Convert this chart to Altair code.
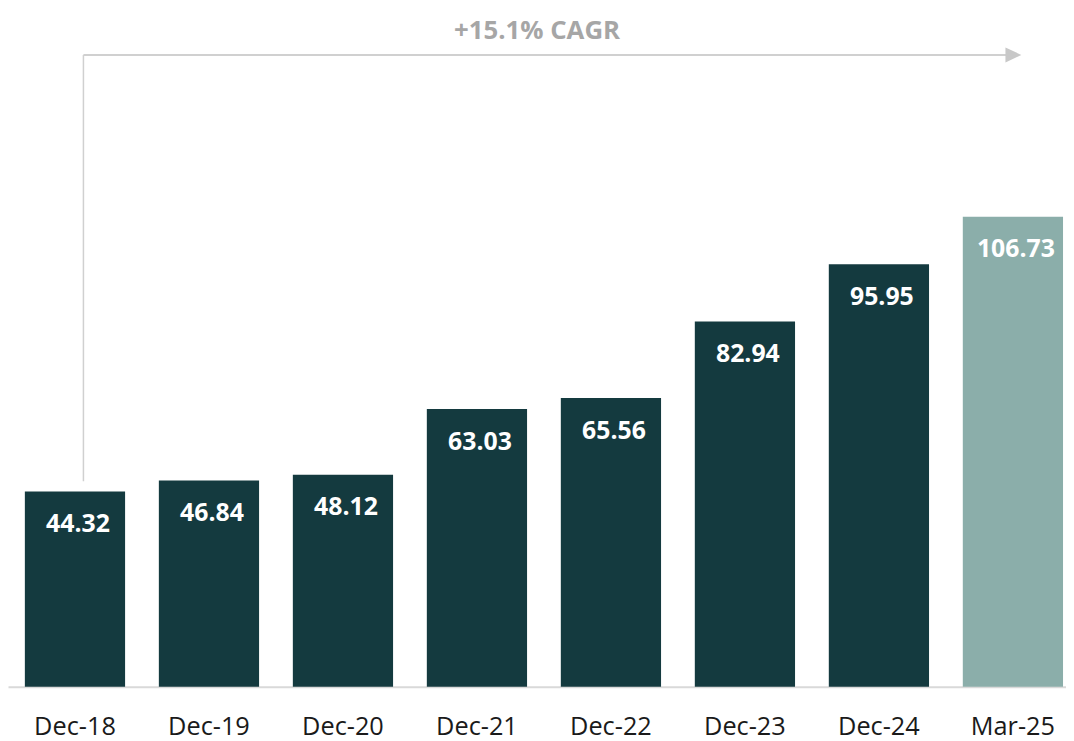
import altair as alt
import pandas as pd

# ---- data ----
periods = ["Dec-18", "Dec-19", "Dec-20", "Dec-21", "Dec-22", "Dec-23", "Dec-24", "Mar-25"]
values = [44.32, 46.84, 48.12, 63.03, 65.56, 82.94, 95.95, 106.73]
period_kind = ["Year end", "Year end", "Year end", "Year end", "Year end", "Year end", "Year end", "Latest quarter"]
value_labels = ["44.32", "46.84", "48.12", "63.03", "65.56", "82.94", "95.95", "106.73"]
cagr_label = ["+15.1% CAGR"]

df = pd.DataFrame({"period": periods, "value": values, "kind": period_kind, "label": value_labels})
ann = pd.DataFrame({"text": cagr_label})

FONT = "Open Sans"
W, H = 1066, 681

x_scale = alt.Scale(paddingInner=0.252, paddingOuter=0.074, align=0.85)

x_enc = alt.X(
    "period:N",
    sort=periods,
    scale=x_scale,
    axis=alt.Axis(
        title=None,
        ticks=False,
        tickSize=0,
        domainColor="#d9d9d9",
        domainWidth=2,
        labelFont=FONT,
        labelFontSize=25.5,
        labelColor="#1a1a1a",
        labelAngle=0,
        labelBaseline="alphabetic",
        labelPadding=48,
        grid=False,
    ),
)
y_enc = alt.Y("value:Q", scale=alt.Scale(domain=[0, 153.5], nice=False, zero=True), axis=None)

bars = alt.Chart(df).mark_bar().encode(
    x=x_enc,
    y=y_enc,
    color=alt.Color(
        "kind:N",
        scale=alt.Scale(domain=["Year end", "Latest quarter"], range=["#143a3f", "#8baeaa"]),
        legend=None,
    ),
)

labels = alt.Chart(df).mark_text(
    font=FONT, fontSize=25, fontWeight="bold", color="white",
    baseline="alphabetic", align="center", dy=41, dx=3,
).encode(x=alt.X("period:N", sort=periods, scale=x_scale), y="value:Q", text="label:N")

# CAGR bracket arrow (annotation)
vline = alt.Chart(ann).mark_rule(color="#d0d0d0", strokeWidth=1.5).encode(
    x=alt.value(76), y=alt.value(474), y2=alt.value(44.5)
)
hline = alt.Chart(ann).mark_rule(color="#d0d0d0", strokeWidth=2).encode(
    x=alt.value(76), x2=alt.value(1006), y=alt.value(44.5)
)
head = alt.Chart(ann).mark_point(
    shape="M-1,-0.94L1,0L-1,0.94Z", filled=True, color="#c8c8c8", opacity=1, size=256, strokeWidth=0
).encode(x=alt.value(1013), y=alt.value(44.5))
cagr = alt.Chart(ann).mark_text(
    font=FONT, fontSize=26, fontWeight="bold", color="#a6a6a6", baseline="alphabetic", align="center"
).encode(x=alt.value(533), y=alt.value(28), text="text:N")

chart = (
    alt.layer(bars, labels, vline, hline, head, cagr)
    .properties(
        width=W,
        height=H,
        autosize=alt.AutoSizeParams(type="none"),
        padding={"left": 0, "right": 0, "top": 0, "bottom": 52},
    )
    .configure_view(stroke=None)
)

chart.save("out.html", embed_options={"renderer": "svg", "actions": False})
